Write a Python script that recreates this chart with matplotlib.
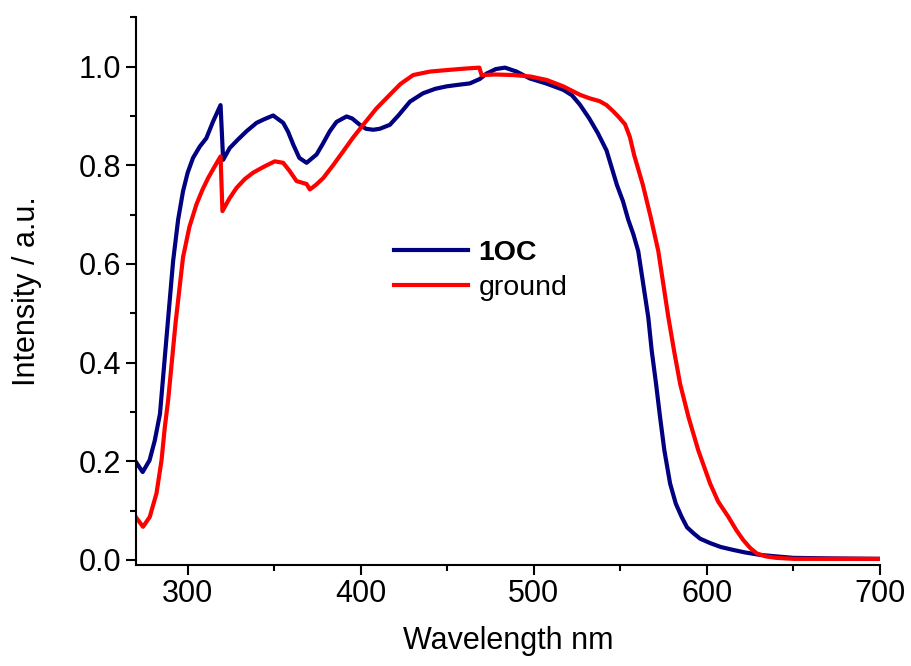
import matplotlib.pyplot as plt
from matplotlib.ticker import MultipleLocator

plt.rcParams['font.family'] = ['Liberation Sans', 'DejaVu Sans']

# values
wl_1oc = [270, 274, 278, 281, 284, 288, 291.6, 294.5, 297.3, 300, 303.1, 307, 310.8, 314.7,
          319, 320.5, 324.3, 329, 334, 339.8, 344, 349.4, 355.2, 358, 361, 364.5, 368.7,
          374.5, 378, 382.1, 386, 391.8, 395, 399.5, 403, 407.2, 411, 416.8, 422, 428.4,
          436, 443, 449.6, 456, 463, 468.8, 472.7, 478, 483.3, 490, 497.7, 507, 517,
          522, 526.6, 532, 537, 542, 548, 551.5, 554.5, 557.5, 560.3, 563.2, 566.1, 568.1,
          570.6, 572.9, 575.4, 578.7, 582, 585.4, 588.5, 592.2, 596, 601.8, 608, 615.3,
          622, 630.7, 640, 650, 670, 700]
int_1oc = [0.199, 0.178, 0.202, 0.242, 0.296, 0.46, 0.606, 0.69, 0.747, 0.785, 0.815, 0.838,
           0.855, 0.889, 0.922, 0.811, 0.835, 0.852, 0.869, 0.886, 0.893, 0.901, 0.886, 0.868,
           0.842, 0.815, 0.805, 0.822, 0.843, 0.869, 0.888, 0.899, 0.895, 0.882, 0.874, 0.872,
           0.874, 0.882, 0.902, 0.929, 0.946, 0.955, 0.96, 0.963, 0.966, 0.975, 0.986, 0.995,
           0.998, 0.99, 0.976, 0.966, 0.953, 0.942, 0.923, 0.895, 0.865, 0.83, 0.76, 0.727,
           0.69, 0.66, 0.626, 0.559, 0.492, 0.424, 0.357, 0.29, 0.222, 0.155, 0.114, 0.087,
           0.066, 0.054, 0.043, 0.034, 0.026, 0.02, 0.015, 0.01, 0.007, 0.004, 0.003, 0.002]

wl_ground = [270, 274.2, 278.1, 282, 284.9, 286.8, 288.7, 293, 297.3, 301, 305.1, 308.5, 311.8,
             315.5, 319, 320.1, 324, 328.2, 333, 337.8, 344, 350.3, 355.2, 359, 362.9, 368.7,
             370.6, 374, 378.3, 384, 389.8, 395.5, 401.4, 409, 416.8, 423, 430.3, 440, 449.6,
             460, 468.5, 469.8, 478, 488, 498, 507.4, 517, 526.6, 532, 538, 542, 545.7, 549,
             552.7, 555.5, 558, 560.5, 563, 567.5, 571.9, 574.8, 577.7, 581, 584.5, 589.3,
             595, 601.8, 606.5, 612.4, 617, 621, 625, 628.8, 634, 640, 650, 660, 700]
int_ground = [0.087, 0.067, 0.087, 0.135, 0.202, 0.269, 0.323, 0.48, 0.613, 0.675, 0.721, 0.75,
              0.774, 0.797, 0.818, 0.707, 0.732, 0.754, 0.772, 0.785, 0.797, 0.808, 0.805, 0.788,
              0.768, 0.762, 0.751, 0.76, 0.774, 0.8, 0.828, 0.856, 0.882, 0.915, 0.943, 0.965,
              0.983, 0.99, 0.993, 0.996, 0.998, 0.983, 0.984, 0.983, 0.98, 0.973, 0.96, 0.943,
              0.936, 0.93, 0.922, 0.91, 0.898, 0.883, 0.857, 0.82, 0.79, 0.76, 0.695, 0.626,
              0.559, 0.492, 0.424, 0.357, 0.29, 0.222, 0.155, 0.118, 0.087, 0.06, 0.04, 0.024,
              0.013, 0.007, 0.004, 0.002, 0.002, 0.002]

fig = plt.figure(figsize=(9.11, 6.66), dpi=100)
ax = fig.add_axes([0.149, 0.152, 0.817, 0.822])

ax.plot(wl_1oc, int_1oc, color='#000080', lw=3, label='1OC')
ax.plot(wl_ground, int_ground, color='#ff0000', lw=3, label='ground')

ax.set_xlim(270, 700)
ax.set_ylim(-0.01, 1.1)
ax.xaxis.set_major_locator(MultipleLocator(100))
ax.xaxis.set_minor_locator(MultipleLocator(50))
ax.yaxis.set_major_locator(MultipleLocator(0.2))
ax.yaxis.set_minor_locator(MultipleLocator(0.1))
ax.yaxis.set_major_formatter(plt.FormatStrFormatter('%.1f'))

for s in ['top', 'right']:
    ax.spines[s].set_visible(False)
for s in ['left', 'bottom']:
    ax.spines[s].set_linewidth(1.5)
ax.tick_params(which='major', direction='out', length=7, width=1.5, labelsize=22)
ax.tick_params(which='minor', direction='out', length=4.5, width=1.5)

ax.set_xlabel('Wavelength nm', fontsize=22, labelpad=12)
ax.set_ylabel('Intensity / a.u.', fontsize=22, labelpad=26)

leg = ax.legend(loc='center left', bbox_to_anchor=(0.313, 0.538), frameon=False,
                fontsize=20.5, handlelength=2.6, handletextpad=0.35, labelspacing=0.3)
leg.get_texts()[0].set_fontweight('bold')

fig.savefig('out.png', dpi=100)
